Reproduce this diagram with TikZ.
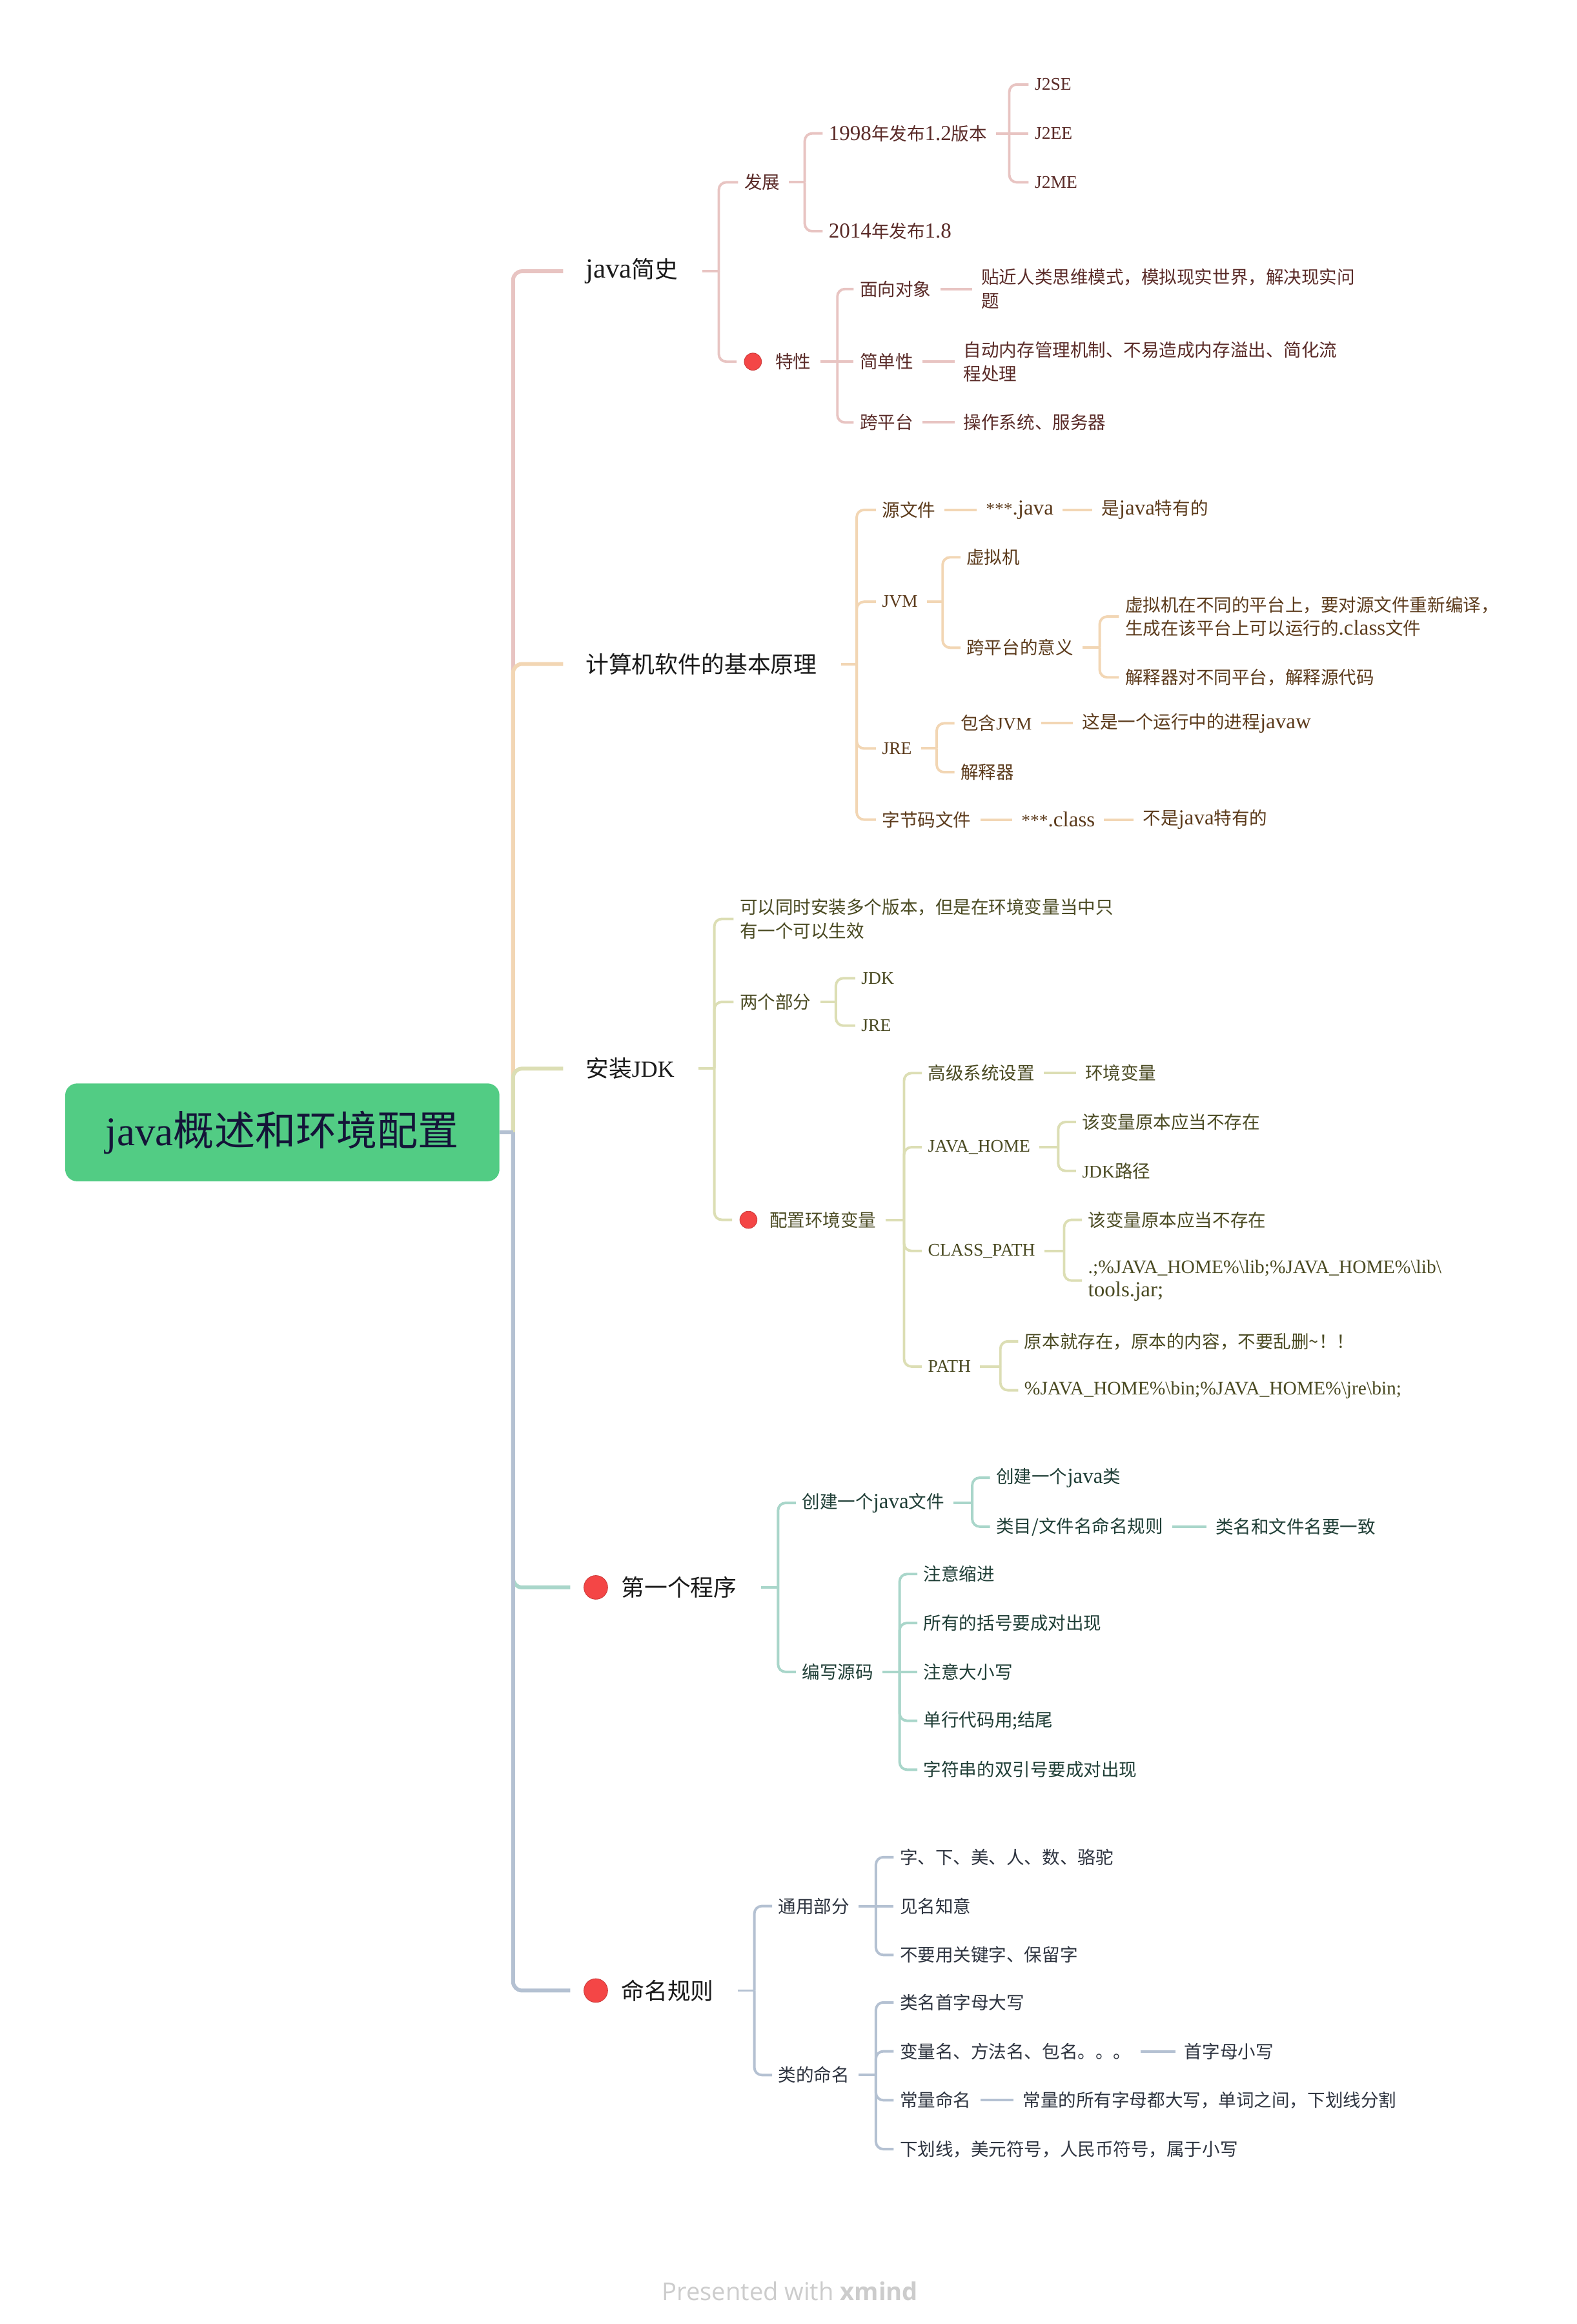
\documentclass[tikz,border=0pt]{standalone}
\usepackage{fontspec}
\setmainfont{Noto Sans CJK SC}
\newfontfamily\lat{Liberation Serif}
\newfontfamily\latl[Scale=1.2]{Liberation Serif}
\newfontfamily\latm[Scale=1.07]{Liberation Serif}
\newfontfamily\wmfont{Open Sans}
\usetikzlibrary{calc}

\definecolor{lA}{HTML}{E8C4C2}
\definecolor{tA}{HTML}{5A2B28}
\definecolor{lB}{HTML}{F2D6B4}
\definecolor{tB}{HTML}{5C3B1C}
\definecolor{lC}{HTML}{DCDEB4}
\definecolor{tC}{HTML}{4A4A22}
\definecolor{lD}{HTML}{A9D6CA}
\definecolor{tD}{HTML}{1F3E36}
\definecolor{lE}{HTML}{B4C1D2}
\definecolor{tE}{HTML}{2E3440}
\definecolor{rootg}{HTML}{52CC84}
\definecolor{roott}{HTML}{141438}
\definecolor{dotr}{HTML}{F44646}
\definecolor{mtext}{HTML}{1A1A1A}
\definecolor{wmgray}{HTML}{CCCCCC}

\newcommand\mystub[3]{\draw[#1] ([xshift=6pt]#2.east) -- (#3);}
\newcommand\mykid[3]{\draw[#1] (#2) |- ([xshift=-4pt]#3.west);}
\newcommand\myflat[3]{\draw[#1] (#2) -- ([xshift=-4pt]#3.west);}
\newcommand\mylink[3]{\draw[#1] ([xshift=6pt]#2.east) -- ([xshift=-6pt]#3.west);}

\begin{document}
\begin{tikzpicture}[x=1pt,y=-1pt,
  sub/.style={anchor=west,inner sep=0pt,align=left,font=\fontsize{12}{16}\selectfont},
  mainlbl/.style={anchor=west,inner sep=0pt,font=\fontsize{15.6}{19}\selectfont,text=mtext},
  sA/.style={sub,text=tA}, sB/.style={sub,text=tB}, sC/.style={sub,text=tC},
  sD/.style={sub,text=tD}, sE/.style={sub,text=tE},
  cA/.style={draw=lA,line width=1.7pt,rounded corners=5pt},
  cB/.style={draw=lB,line width=1.7pt,rounded corners=5pt},
  cC/.style={draw=lC,line width=1.7pt,rounded corners=5pt},
  cD/.style={draw=lD,line width=1.7pt,rounded corners=5pt},
  cE/.style={draw=lE,line width=1.7pt,rounded corners=5pt},
  mA/.style={draw=lA,line width=2.6pt,rounded corners=6pt},
  mB/.style={draw=lB,line width=2.6pt,rounded corners=6pt},
  mC/.style={draw=lC,line width=2.6pt,rounded corners=6pt},
  mD/.style={draw=lD,line width=2.6pt,rounded corners=6pt},
  mE/.style={draw=lE,line width=2.6pt,rounded corners=6pt},
  reddot/.style={circle,fill=dotr,draw=dotr!85!black,line width=0.4pt,inner sep=0pt,minimum size=11.6pt},
  bigdot/.style={reddot,minimum size=16pt},
]
\fill[white] (0,0) rectangle (1064,1568);
\useasboundingbox (0,0) rectangle (1064,1568);

% root
\node[fill=rootg,rounded corners=8pt,minimum width=293pt,minimum height=66pt,inner sep=0pt,
      text=roott,font=\fontsize{27.5}{30}\selectfont] (root) at (190.5,764) {{\lat java}概述和环境配置};
\coordinate (jr) at ($(root.east)+(9,0)$);

% ---------- branch A: java简史
\node[mainlbl] (b1) at (395,183) {{\latl java}简史};
\coordinate (j1) at (485,183);
\node[sA] (b1a) at (502,123) {发展};
\coordinate (j1a) at (543,123);
\node[sA] (b1a1) at (559,90) {{\latl 1998}年发布{\latl 1.2}版本};
\coordinate (j1a1) at (681,90);
\node[sA] (b1a1a) at (698,57) {\lat J2SE};
\node[sA] (b1a1b) at (698,90) {\lat J2EE};
\node[sA] (b1a1c) at (698,123) {\lat J2ME};
\node[sA] (b1a2) at (559,156) {{\latl 2014}年发布{\latl 1.8}};
\node[reddot] (d1b) at (508,244) {};
\node[sA] (b1b) at (523,244) {特性};
\coordinate (j1b) at (565,244);
\node[sA] (b1b1) at (580,195) {面向对象};
\node[sA] (b1b1a) at (662,195) {贴近人类思维模式，模拟现实世界，解决现实问\\题};
\node[sA] (b1b2) at (580,244) {简单性};
\node[sA] (b1b2a) at (650,244) {自动内存管理机制、不易造成内存溢出、简化流\\程处理};
\node[sA] (b1b3) at (580,285) {跨平台};
\node[sA] (b1b3a) at (650,285) {操作系统、服务器};

% ---------- branch B
\node[mainlbl] (b2) at (395,448) {计算机软件的基本原理};
\coordinate (j2) at (578,448);
\node[sB] (b2a) at (595,344) {源文件};
\node[sB] (b2a1) at (665,344) {{\lat ***}{\latl .java}};
\node[sB] (b2a2) at (743,344) {是{\latl java}特有的};
\node[sB] (b2b) at (595,406) {\lat JVM};
\coordinate (j2b) at (636,406);
\node[sB] (b2b1) at (652,376) {虚拟机};
\node[sB] (b2b2) at (652,437) {跨平台的意义};
\coordinate (j2b2) at (742,437);
\node[sB] (b2b2a) at (759,416) {虚拟机在不同的平台上，要对源文件重新编译，\\生成在该平台上可以运行的{\latl .class}文件};
\node[sB] (b2b2b) at (759,457) {解释器对不同平台，解释源代码};
\node[sB] (b2c) at (595,505) {\lat JRE};
\coordinate (j2c) at (632,505);
\node[sB] (b2c1) at (648,488) {包含{\lat JVM}};
\node[sB] (b2c1a) at (730,488) {这是一个运行中的进程{\latl javaw}};
\node[sB] (b2c2) at (648,521) {解释器};
\node[sB] (b2d) at (595,553) {字节码文件};
\node[sB] (b2d1) at (689,553) {{\lat ***}{\latl .class}};
\node[sB] (b2d2) at (771,553) {不是{\latl java}特有的};

% ---------- branch C
\node[mainlbl] (b3) at (395,721) {安装{\lat JDK}};
\coordinate (j3) at (482,721);
\node[sC] (b3a) at (499,620) {可以同时安装多个版本，但是在环境变量当中只\\有一个可以生效};
\node[sC] (b3b) at (499,676) {两个部分};
\coordinate (j3b) at (564,676);
\node[sC] (b3b1) at (581,660) {\lat JDK};
\node[sC] (b3b2) at (581,692) {\lat JRE};
\node[reddot] (d3c) at (505,823) {};
\node[sC] (b3c) at (519,823) {配置环境变量};
\coordinate (j3c) at (610,823);
\node[sC] (b3c1) at (626,724) {高级系统设置};
\node[sC] (b3c1a) at (732,724) {环境变量};
\node[sC] (b3c2) at (626,774) {\lat JAVA\_HOME};
\coordinate (j3c2) at (714,774);
\node[sC] (b3c2a) at (730,757) {该变量原本应当不存在};
\node[sC] (b3c2b) at (730,790) {{\lat JDK}路径};
\node[sC] (b3c3) at (626,844) {\lat CLASS\_PATH};
\coordinate (j3c3) at (718,844);
\node[sC] (b3c3a) at (734,823) {该变量原本应当不存在};
\node[sC] (b3c3b) at (734,864) {\latm .;\%JAVA\_HOME\%\textbackslash lib;\%JAVA\_HOME\%\textbackslash lib\textbackslash\\\latl tools.jar;};
\node[sC] (b3c4) at (626,922) {\lat PATH};
\coordinate (j3c4) at (675,922);
\node[sC] (b3c4a) at (691,905) {原本就存在，原本的内容，不要乱删\textasciitilde ！！};
\node[sC] (b3c4b) at (691,938) {\latm \%JAVA\_HOME\%\textbackslash bin;\%JAVA\_HOME\%\textbackslash jre\textbackslash bin;};

% ---------- branch D
\node[bigdot] (d4) at (402,1071) {};
\node[mainlbl] (b4) at (419,1071) {第一个程序};
\coordinate (j4) at (525,1071);
\node[sD] (b4a) at (541,1014) {创建一个{\latl java}文件};
\coordinate (j4a) at (656,1014);
\node[sD] (b4a1) at (672,997) {创建一个{\latl java}类};
\node[sD] (b4a2) at (672,1030) {类目/文件名命名规则};
\node[sD] (b4a2a) at (820,1030) {类名和文件名要一致};
\node[sD] (b4b) at (541,1128) {编写源码};
\coordinate (j4b) at (607,1128);
\node[sD] (b4b1) at (623,1062) {注意缩进};
\node[sD] (b4b2) at (623,1095) {所有的括号要成对出现};
\node[sD] (b4b3) at (623,1128) {注意大小写};
\node[sD] (b4b4) at (623,1161) {单行代码用;结尾};
\node[sD] (b4b5) at (623,1194) {字符串的双引号要成对出现};

% ---------- branch E
\node[bigdot] (d5) at (402,1343) {};
\node[mainlbl] (b5) at (419,1343) {命名规则};
\coordinate (j5) at (509,1343);
\node[sE] (b5a) at (525,1286) {通用部分};
\coordinate (j5a) at (591,1286);
\node[sE] (b5a1) at (607,1253) {字、下、美、人、数、骆驼};
\node[sE] (b5a2) at (607,1286) {见名知意};
\node[sE] (b5a3) at (607,1319) {不要用关键字、保留字};
\node[sE] (b5b) at (525,1400) {类的命名};
\coordinate (j5b) at (591,1400);
\node[sE] (b5b1) at (607,1351) {类名首字母大写};
\node[sE] (b5b2) at (607,1384) {变量名、方法名、包名。。。};
\node[sE] (b5b2a) at (799,1384) {首字母小写};
\node[sE] (b5b3) at (607,1417) {常量命名};
\node[sE] (b5b3a) at (690,1417) {常量的所有字母都大写，单词之间，下划线分割};
\node[sE] (b5b4) at (607,1450) {下划线，美元符号，人民币符号，属于小写};

% watermark
\node[inner sep=0pt,text=wmgray,font=\wmfont\fontsize{16.6}{18}\selectfont] (wm) at (533,1546) {Presented with \textbf{xmind}};

% ---------- main trunk
\draw[mA] (jr) |- ([xshift=-15pt]b1.west);
\draw[mB] (jr) |- ([xshift=-15pt]b2.west);
\draw[mC] (jr) |- ([xshift=-15pt]b3.west);
\draw[mD] (jr) |- ([xshift=-9pt]d4.west);
\draw[mE] (jr) |- ([xshift=-9pt]d5.west);
\draw[draw=lE,line width=2.6pt] (root.east) -- (jr);

% ---------- connectors A
\draw[cA] ([xshift=16pt]b1.east) -- (j1);
\mykid{cA}{j1}{b1a}
\draw[cA] (j1) |- ([xshift=-5pt]d1b.west);
\mystub{cA}{b1a}{j1a}
\mykid{cA}{j1a}{b1a1}
\mykid{cA}{j1a}{b1a2}
\mystub{cA}{b1a1}{j1a1}
\mykid{cA}{j1a1}{b1a1a}
\myflat{cA}{j1a1}{b1a1b}
\mykid{cA}{j1a1}{b1a1c}
\mystub{cA}{b1b}{j1b}
\mykid{cA}{j1b}{b1b1}
\myflat{cA}{j1b}{b1b2}
\mykid{cA}{j1b}{b1b3}
\mylink{cA}{b1b1}{b1b1a}
\mylink{cA}{b1b2}{b1b2a}
\mylink{cA}{b1b3}{b1b3a}

% ---------- connectors B
\draw[cB] ([xshift=16pt]b2.east) -- (j2);
\mykid{cB}{j2}{b2a}
\mykid{cB}{j2}{b2b}
\mykid{cB}{j2}{b2c}
\mykid{cB}{j2}{b2d}
\mylink{cB}{b2a}{b2a1}
\mylink{cB}{b2a1}{b2a2}
\mystub{cB}{b2b}{j2b}
\mykid{cB}{j2b}{b2b1}
\mykid{cB}{j2b}{b2b2}
\mystub{cB}{b2b2}{j2b2}
\mykid{cB}{j2b2}{b2b2a}
\mykid{cB}{j2b2}{b2b2b}
\mystub{cB}{b2c}{j2c}
\mykid{cB}{j2c}{b2c1}
\mykid{cB}{j2c}{b2c2}
\mylink{cB}{b2c1}{b2c1a}
\mylink{cB}{b2d}{b2d1}
\mylink{cB}{b2d1}{b2d2}

% ---------- connectors C
\draw[cC] ([xshift=16pt]b3.east) -- (j3);
\mykid{cC}{j3}{b3a}
\mykid{cC}{j3}{b3b}
\draw[cC] (j3) |- ([xshift=-5pt]d3c.west);
\mystub{cC}{b3b}{j3b}
\mykid{cC}{j3b}{b3b1}
\mykid{cC}{j3b}{b3b2}
\mystub{cC}{b3c}{j3c}
\mykid{cC}{j3c}{b3c1}
\mykid{cC}{j3c}{b3c2}
\mykid{cC}{j3c}{b3c3}
\mykid{cC}{j3c}{b3c4}
\mylink{cC}{b3c1}{b3c1a}
\mystub{cC}{b3c2}{j3c2}
\mykid{cC}{j3c2}{b3c2a}
\mykid{cC}{j3c2}{b3c2b}
\mystub{cC}{b3c3}{j3c3}
\mykid{cC}{j3c3}{b3c3a}
\mykid{cC}{j3c3}{b3c3b}
\mystub{cC}{b3c4}{j3c4}
\mykid{cC}{j3c4}{b3c4a}
\mykid{cC}{j3c4}{b3c4b}

% ---------- connectors D
\draw[cD] ([xshift=16pt]b4.east) -- (j4);
\mykid{cD}{j4}{b4a}
\mykid{cD}{j4}{b4b}
\mystub{cD}{b4a}{j4a}
\mykid{cD}{j4a}{b4a1}
\mykid{cD}{j4a}{b4a2}
\mylink{cD}{b4a2}{b4a2a}
\mystub{cD}{b4b}{j4b}
\mykid{cD}{j4b}{b4b1}
\mykid{cD}{j4b}{b4b2}
\myflat{cD}{j4b}{b4b3}
\mykid{cD}{j4b}{b4b4}
\mykid{cD}{j4b}{b4b5}

% ---------- connectors E
\draw[cE] ([xshift=16pt]b5.east) -- (j5);
\mykid{cE}{j5}{b5a}
\mykid{cE}{j5}{b5b}
\mystub{cE}{b5a}{j5a}
\mykid{cE}{j5a}{b5a1}
\myflat{cE}{j5a}{b5a2}
\mykid{cE}{j5a}{b5a3}
\mystub{cE}{b5b}{j5b}
\mykid{cE}{j5b}{b5b1}
\mykid{cE}{j5b}{b5b2}
\mykid{cE}{j5b}{b5b3}
\mykid{cE}{j5b}{b5b4}
\mylink{cE}{b5b2}{b5b2a}
\mylink{cE}{b5b3}{b5b3a}
\end{tikzpicture}
\end{document}
